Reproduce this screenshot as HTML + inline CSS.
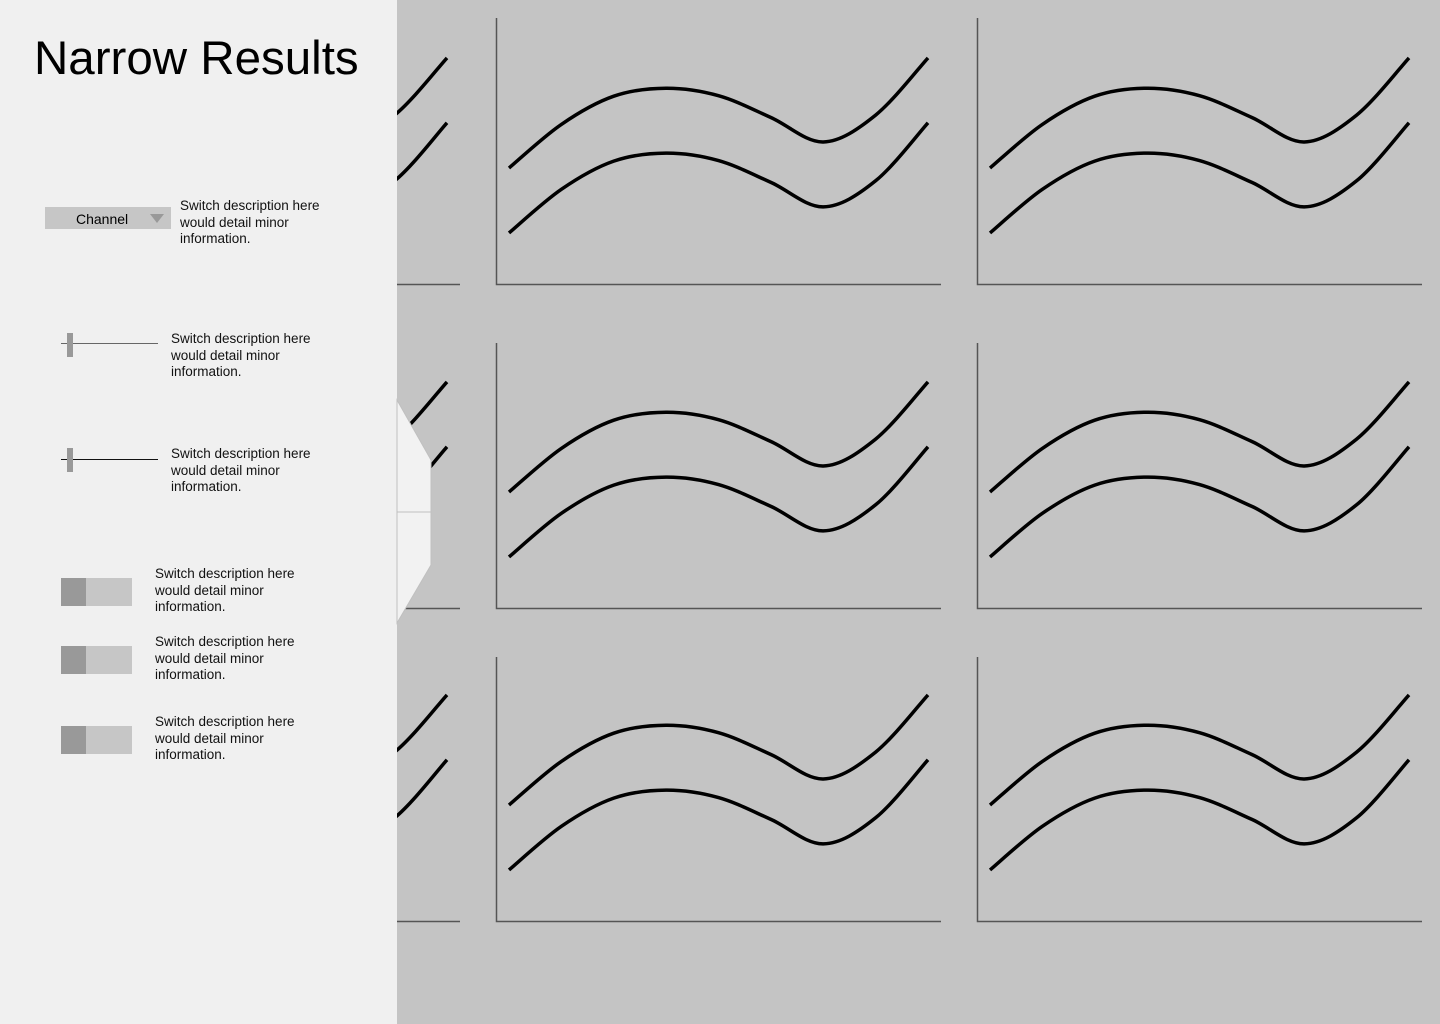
<!DOCTYPE html>
<html><head><meta charset="utf-8"><style>
body{margin:0;width:1440px;height:1024px;overflow:hidden;background:#c4c4c4;font-family:"Liberation Sans",sans-serif;position:relative}
#panel{position:absolute;left:0;top:0;width:397px;height:1024px;background:#f0f0f0}
.t{position:absolute;font-size:13.5px;line-height:16.5px;color:#111}
.sl{position:absolute;width:97px;height:1px;background:#555}
.kn{position:absolute;width:6px;height:24px;background:#999}
.tg{position:absolute;width:71px;height:28px;background:#c6c6c6}
.tg div{width:25px;height:28px;background:#999}
</style></head><body>
<svg id="charts" width="1440" height="1024" style="position:absolute;left:0;top:0"></svg>
<div id="panel">
<div style="position:absolute;left:34px;top:31px;font-size:47.5px;color:#000">Narrow Results</div>
<div style="position:absolute;left:45px;top:207px;width:126px;height:22px;background:#c6c6c6;font-size:14px;line-height:24px;"><span style="position:absolute;left:31px">Channel</span><span style="position:absolute;left:105px;top:7px;width:0;height:0;border-left:7px solid transparent;border-right:7px solid transparent;border-top:9px solid #999"></span></div>
<div class="t" style="left:180px;top:198px">Switch description here<br>would detail minor<br>information.</div>
<div class="sl" style="left:61px;top:343px;background:#666"></div>
<div class="kn" style="left:67px;top:333px"></div>
<div class="t" style="left:171px;top:331px">Switch description here<br>would detail minor<br>information.</div>
<div class="sl" style="left:61px;top:459px;background:#111"></div>
<div class="kn" style="left:67px;top:448px"></div>
<div class="t" style="left:171px;top:446px">Switch description here<br>would detail minor<br>information.</div>
<div class="tg" style="left:61px;top:578px"><div></div></div>
<div class="t" style="left:155px;top:566px">Switch description here<br>would detail minor<br>information.</div>
<div class="tg" style="left:61px;top:646px"><div></div></div>
<div class="t" style="left:155px;top:634px">Switch description here<br>would detail minor<br>information.</div>
<div class="tg" style="left:61px;top:726px"><div></div></div>
<div class="t" style="left:155px;top:714px">Switch description here<br>would detail minor<br>information.</div>
</div>
<svg width="40" height="240" style="position:absolute;left:396px;top:395px">
<polygon points="1,5 35,65 35,170 1,228" fill="#f2f2f2" stroke="#c0c0c0" stroke-width="1"/>
<line x1="1" y1="117" x2="35" y2="117" stroke="#c0c0c0"/>
</svg>
<script>
const xCats=[0,1,2,3,4,5,6,7,8];
const upperSeries=[43.6,60.0,70.6,73.6,70.8,62.6,53.4,63.5,85.0];
const lowerSeries=[19.2,35.6,46.2,49.2,46.4,38.2,29.0,38.8,60.6];
const colLefts=[15,496,977];
const rowTops=[18,343,657];
const rowHeights=[266,265,264];
const NS="http://www.w3.org/2000/svg";
const svg=document.getElementById('charts');
function path(pts){
  let d="M"+pts[0][0]+","+pts[0][1];
  for(let i=0;i<pts.length-1;i++){
    const p0=pts[i-1]||pts[i],p1=pts[i],p2=pts[i+1],p3=pts[i+2]||p2;
    d+=" C"+(p1[0]+(p2[0]-p0[0])/6)+","+(p1[1]+(p2[1]-p0[1])/6)+" "+(p2[0]-(p3[0]-p1[0])/6)+","+(p2[1]-(p3[1]-p1[1])/6)+" "+p2[0]+","+p2[1];
  }
  return d;
}
rowTops.forEach((top,r)=>{colLefts.forEach((left,c)=>{
  const bottom=top+rowHeights[r];
  const xs=v=>left+13+v*(419/8);
  const ys=v=>bottom-v/100*266;
  const g=document.createElementNS(NS,'g');
  
  
  const ax=document.createElementNS(NS,'path');
  ax.setAttribute('d',`M${left+0.5},${top} V${bottom+0.5} H${left+445}`);
  ax.setAttribute('fill','none');ax.setAttribute('stroke','#555');ax.setAttribute('stroke-width','1.5');
  
  
  g.appendChild(ax);
  [upperSeries,lowerSeries].forEach((s,k)=>{
    const p=document.createElementNS(NS,'path');
    p.setAttribute('d',path(xCats.map((x,i)=>[xs(x),ys(s[i])])));
    p.setAttribute('fill','none');p.setAttribute('stroke','#000');p.setAttribute('stroke-width','3.5');
    
    
    g.appendChild(p);
  });
  svg.appendChild(g);
});});
</script>
</body></html>
